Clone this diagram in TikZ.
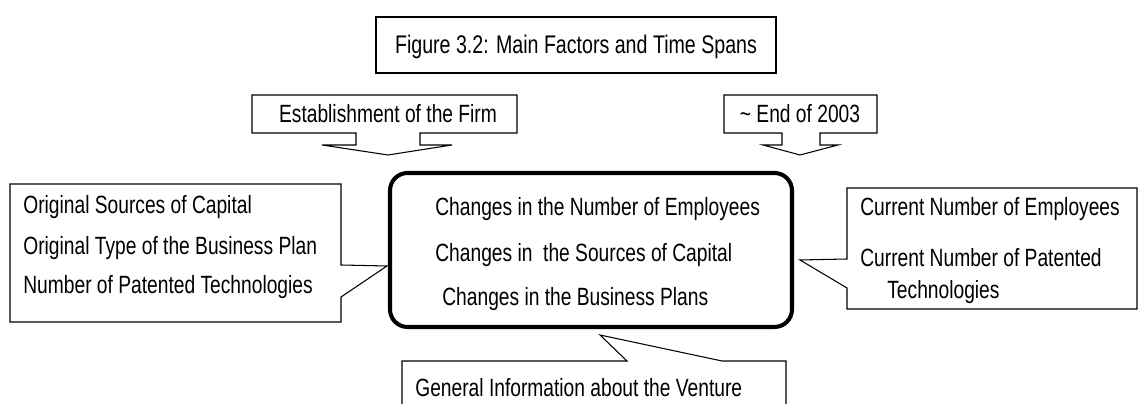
\documentclass[tikz,border=0pt]{standalone}
\usepackage{fontspec}
\setmainfont[FakeStretch=0.77]{Liberation Sans}
\usetikzlibrary{positioning}

\begin{document}
\begin{tikzpicture}[x=0.02cm, y=-0.02cm,
    txt/.style={font=\fontsize{14.2}{17}\selectfont, inner sep=0pt,
                text height=10.2pt, text depth=0pt},
    callout/.style={draw, line width=0.6pt, fill=white},
    mainbox/.style={draw, line width=2.3pt, rounded corners=10pt}
  ]
  \clip (0,0) rectangle (1140,404);
  \fill[white] (0,0) rectangle (1140,404);

  % heading
  \draw[callout] (376,17) rectangle (776,73);
  \node[txt, font=\fontsize{14.5}{17}\selectfont] (title) at (576,45)
    {Figure 3.2: Main Factors and Time Spans};

  % the two time points, pointing down
  \draw[callout] (252,95) -- (517,95) -- (517,133) -- (420,133) -- (420,145)
    -- (452,145) -- (388,155) -- (322,145) -- (356,145) -- (356,133)
    -- (252,133) -- cycle;
  \node[txt] (start) at (388,114) {Establishment of the Firm};

  \draw[callout] (724,95) -- (877,95) -- (877,133) -- (820,133) -- (820,145)
    -- (838,145) -- (800,155) -- (763,145) -- (782,145) -- (782,133)
    -- (724,133) -- cycle;
  \node[txt] (stop) at (800,114) {\textasciitilde{} End of 2003};

  % changes over the time span
  \draw[mainbox] (390,173) rectangle (792,327);
  \node[txt, anchor=west] (chg1) at (435,207) {Changes in the Number of Employees};
  \node[txt, anchor=west] (chg2) at (435,253) {Changes in\ \ the Sources of Capital};
  \node[txt, anchor=west] (chg3) at (442,297) {Changes in the Business Plans};

  % initial state
  \draw[callout] (10,184) -- (341,184) -- (341,265) -- (387,266) -- (341,297)
    -- (341,322) -- (10,322) -- cycle;
  \node[txt, anchor=west] (orig1) at (23,205) {Original Sources of Capital};
  \node[txt, anchor=west] (orig2) at (23,246) {Original Type of the Business Plan};
  \node[txt, anchor=west] (orig3) at (23,285) {Number of Patented Technologies};

  % current state
  \draw[callout] (847,188) -- (1137,188) -- (1137,309) -- (847,309) -- (847,288)
    -- (800,260) -- (847,259) -- cycle;
  \node[txt, anchor=west] (cur1) at (860,207) {Current Number of Employees};
  \node[txt, anchor=west] (cur2) at (860,258) {Current Number of Patented};
  \node[txt, anchor=west] (cur3) at (887,290) {Technologies};

  % general info
  \draw[callout] (402,420) -- (402,361) -- (627,361) -- (600,335) -- (722,361)
    -- (786,361) -- (786,420);
  \node[txt, anchor=west] (info) at (415,388) {General Information about the Venture};
\end{tikzpicture}
\end{document}
